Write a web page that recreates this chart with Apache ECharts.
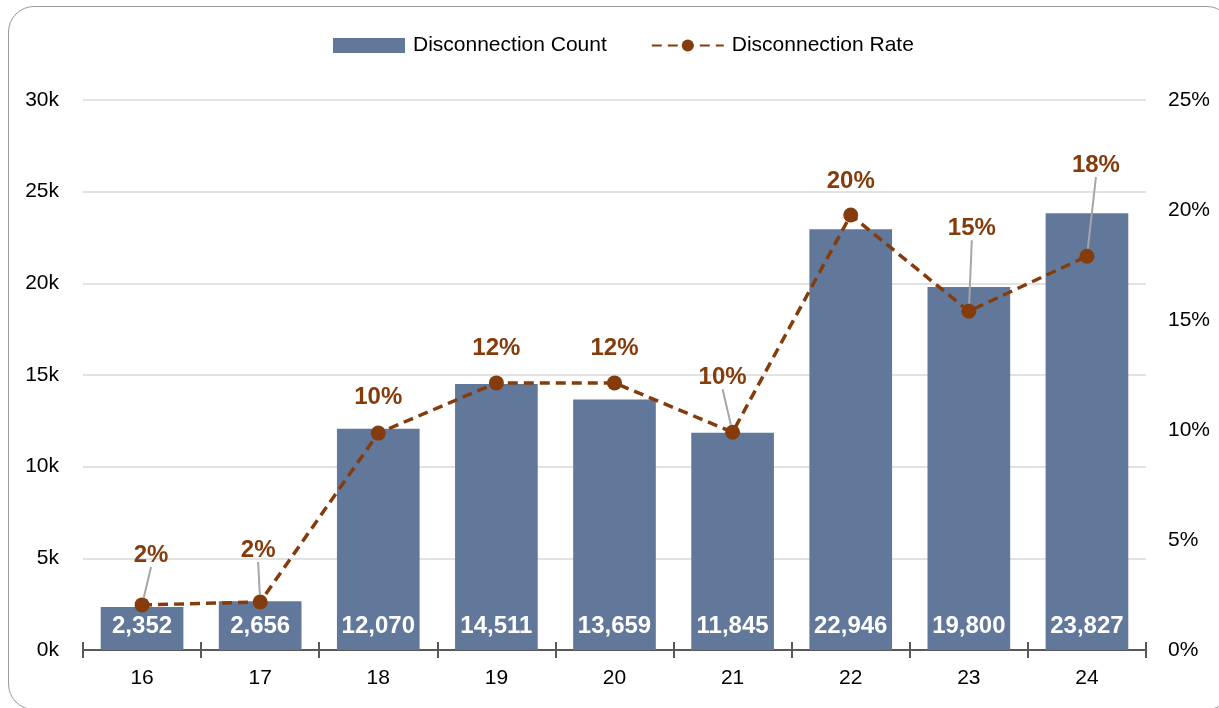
<!DOCTYPE html>
<html>
<head>
<meta charset="utf-8">
<style>
    html, body { margin: 0; padding: 0; background: #fff; }
    #frame {
        position: absolute; left: 8px; top: 6px; width: 1225px; height: 704px;
        border: 1.5px solid #9a9a9a; border-radius: 26px; box-sizing: border-box;
    }
    #disconnectChart { position: absolute; left: 0; top: 0; width: 1219px; height: 708px; }
</style>
<script src="https://cdn.jsdelivr.net/npm/echarts@6/dist/echarts.min.js"></script>
</head>
<body>
<div id="frame"></div>
<div id="disconnectChart"></div>
<script>
// 数据
const categories = ['16', '17', '18', '19', '20', '21', '22', '23', '24'];
const disconnectionCount = [2352, 2656, 12070, 14511, 13659, 11845, 22946, 19800, 23827];
const disconnectionRate = [2.05, 2.18, 9.86, 12.14, 12.14, 9.9, 19.77, 15.4, 17.9];

// 百分比标签相对数据点的偏移
const rateLabelDx = [9, -2, 0, 0, 0, -10, 0, 3, 9];
const rateLabelDy = [-50, -52, -36, -35, -35, -55, -34, -83, -91];

const fontName = "'Liberation Sans Narrow', 'Arial Narrow', 'Liberation Sans', sans-serif";
const barColor = '#62789b';
const rateColor = '#843c0c';

function initDisconnectChart() {
    let chart = echarts.init(document.getElementById('disconnectChart'));

    // 偏移较大的标签才画引导线
    let rateData = disconnectionRate.map((v, i) => ({
        value: v,
        labelLine: { show: Math.abs(rateLabelDy[i]) > 40 }
    }));

    let option = {
        animation: false,
        textStyle: { fontFamily: fontName },
        legend: {
            top: 30,
            left: 328,
            itemWidth: 72,
            itemHeight: 15,
            itemGap: 44,
            textStyle: { fontSize: 21, color: '#000', fontFamily: fontName, padding: [0, 0, 0, 3] },
            data: [
                { name: 'Disconnection Count', icon: 'rect' },
                { name: 'Disconnection Rate' }
            ]
        },
        grid: {
            left: 83,
            right: 73,
            top: 100,
            bottom: 58,
            containLabel: false
        },
        xAxis: [
            {
                type: 'category',
                data: categories,
                axisLine: { lineStyle: { color: '#595959', width: 2 } },
                axisTick: { show: true, length: 8, lineStyle: { color: '#595959', width: 2 } },
                axisLabel: { fontSize: 21, color: '#000', margin: 18, fontFamily: fontName }
            },
            {
                type: 'category',
                data: categories,
                position: 'bottom',
                axisLine: { show: false },
                axisTick: { show: true, inside: true, length: 8, lineStyle: { color: '#595959', width: 2 } },
                axisLabel: { show: false }
            }
        ],
        yAxis: [
            {
                type: 'value',
                min: 0,
                max: 30000,
                interval: 5000,
                axisLine: { show: false },
                axisTick: { show: false },
                splitLine: { lineStyle: { color: '#d9d9d9', width: 1.5 } },
                axisLabel: {
                    fontSize: 21, color: '#000', margin: 24, fontFamily: fontName,
                    formatter: v => (v / 1000) + 'k'
                }
            },
            {
                type: 'value',
                min: 0,
                max: 25,
                interval: 5,
                axisLine: { show: false },
                axisTick: { show: false },
                splitLine: { show: false },
                axisLabel: {
                    fontSize: 21, color: '#000', margin: 22, fontFamily: fontName,
                    formatter: '{value}%'
                }
            }
        ],
        series: [
            {
                name: 'Disconnection Count',
                type: 'bar',
                data: disconnectionCount,
                barCategoryGap: '30%',
                itemStyle: { color: barColor },
                label: {
                    show: true,
                    position: 'insideBottom',
                    distance: 12,
                    color: '#fff',
                    fontSize: 24,
                    fontWeight: 'bold',
                    fontFamily: fontName,
                    formatter: p => p.value.toLocaleString('en-US')
                }
            },
            {
                name: 'Disconnection Rate',
                type: 'line',
                yAxisIndex: 1,
                data: rateData,
                symbol: 'circle',
                symbolSize: 15,
                itemStyle: { color: rateColor },
                lineStyle: { color: rateColor, width: 3.5, type: [10, 6] },
                z: 5,
                label: {
                    show: true,
                    position: 'inside',
                    color: rateColor,
                    fontSize: 24,
                    fontWeight: 'bold',
                    fontFamily: fontName,
                    formatter: p => Math.round(p.value) + '%'
                },
                labelLine: {
                    show: true,
                    lineStyle: { color: '#a6a6a6', width: 2 }
                },
                labelLayout: params => ({
                    dx: rateLabelDx[params.dataIndex],
                    dy: rateLabelDy[params.dataIndex]
                })
            }
        ]
    };

    chart.setOption(option);
}

initDisconnectChart();
</script>
</body>
</html>
